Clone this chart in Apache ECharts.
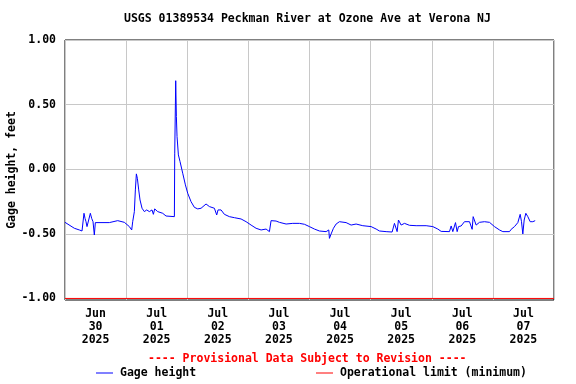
<!DOCTYPE html>
<html>
<head>
<meta charset="utf-8">
<script src="https://cdn.jsdelivr.net/npm/echarts@6/dist/echarts.min.js"></script>
<style>html,body{margin:0;padding:0;background:#fff}#c{width:576px;height:384px}</style>
</head>
<body>
<div id="c"></div>
<script>
// hours since 2025-06-30 00:00
var hoursSinceStart = [0,3.67,5.63,6.68,6.94,7.46,7.86,8.25,8.64,9.30,9.95,10.47,11.0,11.52,11.91,17.41,20.69,23.31,25.27,26.19,
26.58,27.23,27.63,28.02,28.41,28.94,29.46,30.25,31.16,32.08,33.13,34.17,34.70,35.22,36.40,38.36,39.67,42.95,43.08,43.47,
43.73,43.99,44.52,45.17,46.22,47.27,48.18,49.49,50.80,52.11,53.42,54.07,55.38,56.69,58.66,59.57,60.09,61.27,62.58,64.55,
66.51,69.13,71.10,73.06,75.02,76.99,78.95,80.26,80.91,82.88,84.19,86.81,89.43,92.04,94.01,95.97,97.94,99.90,102.52,103.57,
103.83,104.48,105.40,106.45,107.76,110.37,112.34,114.30,116.92,120.19,122.16,123.47,126.09,128.44,128.70,129.36,130.01,130.41,130.93,131.58,
131.98,133.29,135.25,137.87,141.80,144.42,146.38,147.69,150.96,151.62,152.27,153.32,153.97,154.50,155.54,156.85,158.82,159.86,160.26,160.91,
161.43,162.74,164.71,166.67,168.63,170.60,171.91,174.53,175.18,176.49,177.80,178.72,179.24,179.76,180.29,180.94,181.73,182.65,183.69,184.61];
var gageHeight = [-0.411,-0.457,-0.470,-0.478,-0.488,-0.341,-0.380,-0.406,-0.444,-0.393,-0.341,-0.380,-0.406,-0.509,-0.413,-0.413,-0.398,-0.411,-0.444,-0.470,
-0.406,-0.328,-0.160,-0.036,-0.070,-0.160,-0.238,-0.302,-0.328,-0.315,-0.328,-0.315,-0.349,-0.307,-0.328,-0.341,-0.362,-0.367,0.119,0.685,
0.408,0.253,0.111,0.059,-0.031,-0.121,-0.186,-0.251,-0.295,-0.307,-0.302,-0.315,-0.269,-0.289,-0.302,-0.354,-0.315,-0.315,-0.349,-0.367,
-0.375,-0.385,-0.406,-0.432,-0.457,-0.470,-0.463,-0.483,-0.398,-0.401,-0.411,-0.424,-0.419,-0.419,-0.426,-0.444,-0.463,-0.478,-0.483,-0.470,
-0.535,-0.501,-0.457,-0.424,-0.406,-0.413,-0.432,-0.424,-0.437,-0.444,-0.463,-0.478,-0.483,-0.486,-0.496,-0.419,-0.406,-0.483,-0.393,-0.385,
-0.432,-0.419,-0.434,-0.437,-0.437,-0.444,-0.463,-0.481,-0.483,-0.439,-0.483,-0.413,-0.483,-0.444,-0.439,-0.406,-0.406,-0.465,-0.367,-0.380,
-0.432,-0.411,-0.406,-0.411,-0.444,-0.470,-0.483,-0.483,-0.465,-0.444,-0.413,-0.349,-0.406,-0.501,-0.393,-0.341,-0.367,-0.406,-0.406,-0.398];
var operationalLimit = -1.0;
var tickMonths = ['Jun','Jul','Jul','Jul','Jul','Jul','Jul','Jul'];
var tickDays = ['30','01','02','03','04','05','06','07'];
var tickYears = ['2025','2025','2025','2025','2025','2025','2025','2025'];
var yTickValues = [-1.0,-0.5,0.0,0.5,1.0];
var totalHours = 192;

var gageData = hoursSinceStart.map(function(h,i){return [h,gageHeight[i]];});
var limitData = [[0,operationalLimit],[totalHours,operationalLimit]];

var FONT = 'DejaVu Sans Mono';
var chart = echarts.init(document.getElementById('c'), null, {renderer:'canvas'});
chart.setOption({
  animation:false,
  title:[
    {text:'USGS 01389534 Peckman River at Ozone Ave at Verona NJ', left:124, top:12, padding:0,
     textStyle:{fontFamily:FONT,fontSize:11.5,fontWeight:'bold',color:'#000',lineHeight:14}},
    {text:'---- Provisional Data Subject to Revision ----', left:148, top:352, padding:0,
     textStyle:{fontFamily:FONT,fontSize:11.5,fontWeight:'bold',color:'#ff0000',lineHeight:14}}
  ],
  legend:[
    {data:['Gage height'], left:96, top:366, padding:0, icon:'rect', itemWidth:17, itemHeight:1,
     textStyle:{fontFamily:FONT,fontSize:11.5,fontWeight:'bold',color:'#000',lineHeight:14,padding:[0,0,0,2]}},
    {data:['Operational limit (minimum)'], left:316, top:366, padding:0, icon:'rect', itemWidth:17, itemHeight:1,
     textStyle:{fontFamily:FONT,fontSize:11.5,fontWeight:'bold',color:'#000',lineHeight:14,padding:[0,0,0,2]}}
  ],
  grid:{left:65, right:22, top:40, bottom:84, show:true, borderColor:'#000', borderWidth:1, backgroundColor:'#fff',
        containLabel:false, outerBoundsMode:'none'},
  xAxis:[
    {type:'value', min:0, max:totalHours, interval:12,
     axisLine:{show:false}, axisTick:{show:false}, splitLine:{show:false},
     axisLabel:{margin:8, fontFamily:FONT, fontSize:11.5, fontWeight:'bold', color:'#000', lineHeight:13, align:'center',
       showMinLabel:true, showMaxLabel:true,
       formatter:function(v){ if (v%24!==12) return ''; var i=(v-12)/24; return tickMonths[i]+'\n'+tickDays[i]+'\n'+tickYears[i]; }}},
    {type:'value', min:0, max:totalHours, interval:24, position:'bottom',
     axisLine:{show:false}, axisTick:{show:false}, axisLabel:{show:false},
     splitLine:{show:true, lineStyle:{color:'#c8c8c8', width:1}}}
  ],
  yAxis:{type:'value', min:-1.012, max:1.0,
    name:'Gage height, feet', nameLocation:'middle', nameGap:47, nameRotate:90, nameMoveOverlap:false,
    nameTextStyle:{fontFamily:FONT,fontSize:11.5,fontWeight:'bold',color:'#000'},
    axisLine:{show:false},
    axisTick:{show:false, customValues:yTickValues},
    splitLine:{show:true, lineStyle:{color:'#c8c8c8', width:1}},
    axisLabel:{customValues:yTickValues, margin:9, fontFamily:FONT, fontSize:11.5, fontWeight:'bold', color:'#000',
      formatter:function(v){return v.toFixed(2);}}},
  series:[
    {name:'Gage height', type:'line', xAxisIndex:0, data:gageData, showSymbol:false, symbol:'none',
     lineStyle:{color:'#0000ff', width:1}, itemStyle:{color:'#0000ff'}, z:3},
    {name:'Operational limit (minimum)', type:'line', xAxisIndex:0, data:limitData, showSymbol:false, symbol:'none',
     lineStyle:{color:'#ff0000', width:1}, itemStyle:{color:'#ff0000'}, z:2}
  ]
});
</script>
</body>
</html>
